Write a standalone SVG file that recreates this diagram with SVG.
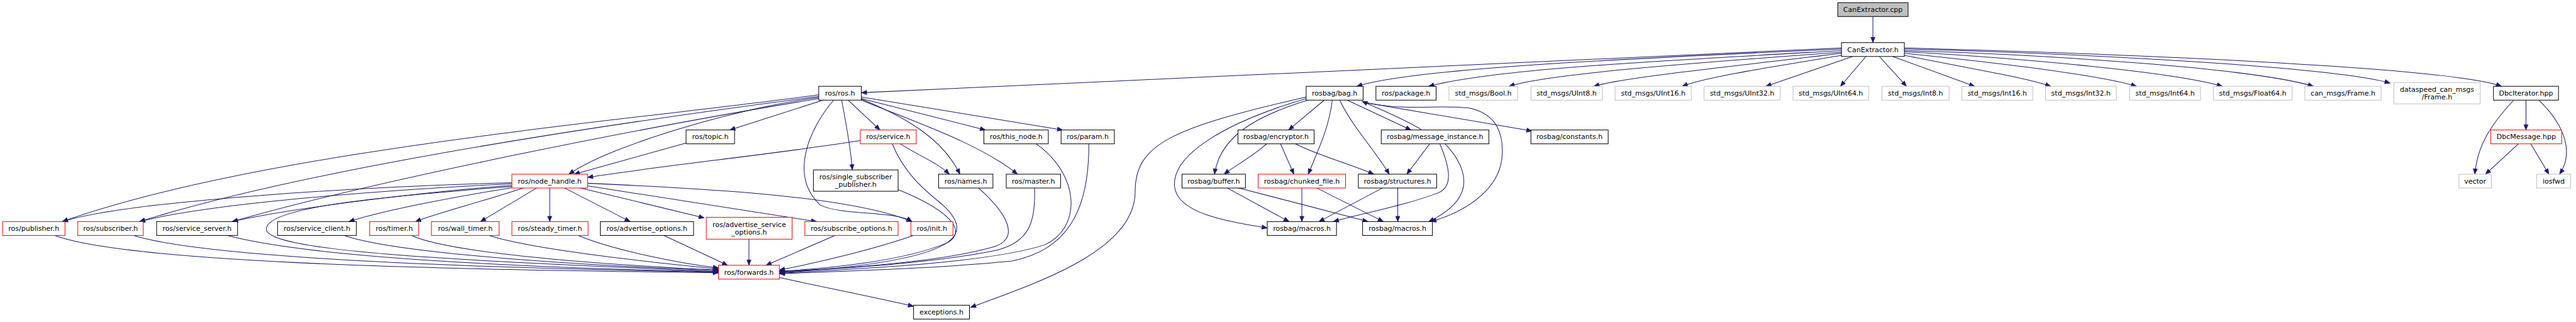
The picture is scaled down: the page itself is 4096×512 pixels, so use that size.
<svg xmlns="http://www.w3.org/2000/svg" width="4096" height="512" viewBox="0 0 4096 512">
<style>
.n rect{fill:#fff;stroke:#000;stroke-width:1.2}
.n.r rect{stroke:#ff0000}
.n.g rect{stroke:#bfbfbf}
.n.s rect{fill:#bfbfbf}
text{font-family:"DejaVu Sans","Liberation Sans",sans-serif;font-size:13px;text-anchor:middle;fill:#000}
#edges path{fill:none;stroke:#191970;stroke-width:1.2;marker-end:url(#a)}
</style>
<defs>
<marker id="a" markerUnits="userSpaceOnUse" markerWidth="12" markerHeight="9" refX="10" refY="4" orient="auto" overflow="visible"><path d="M0,0 L10,4 L0,8 z" fill="#191970" stroke="#191970" stroke-width="0.8"/></marker>
</defs>
<rect width="4096" height="512" fill="#fff"/>
<g transform="scale(0.847)">
<g id="edges">
<path d="M3516,31 L3516,80"/>
<path d="M3457,90 L1617,174"/>
<path d="M3457,92 C3000,112 2650,130 2547,162"/>
<path d="M3457,95 C3100,115 2800,130 2682,162"/>
<path d="M3457,98 C3150,120 2900,140 2833,162"/>
<path d="M3457,100 C3250,125 3050,145 2992,162"/>
<path d="M3457,104 C3330,125 3200,145 3158,162"/>
<path d="M3478,106 L3315,162"/>
<path d="M3503,106 L3455,162"/>
<path d="M3528,106 L3579,162"/>
<path d="M3553,106 L3707,162"/>
<path d="M3575,104 C3680,125 3800,145 3850,162"/>
<path d="M3575,100 C3750,118 3940,140 4011,162"/>
<path d="M3575,97 C3800,110 4080,135 4172,162"/>
<path d="M3575,95 C3850,103 4230,128 4343,162"/>
<path d="M3575,92 C3900,100 4380,125 4487,156"/>
<path d="M3575,90 C3950,100 4600,125 4696,162"/>
<path d="M4742,188 L4742,244"/>
<path d="M4719,188 C4670,240 4650,280 4646,327"/>
<path d="M4766,188 C4820,240 4830,290 4805,327"/>
<path d="M4728,270 L4666,327"/>
<path d="M4751,270 L4785,327"/>
<path d="M1537,178 C1200,225 500,280 117,416"/>
<path d="M1537,181 C1200,225 600,310 262,416"/>
<path d="M1537,185 C1200,240 700,340 436,416"/>
<path d="M1537,183 C1400,200 1150,270 1068,327"/>
<path d="M1545,188 L1370,244"/>
<path d="M1592,188 L1652,244"/>
<path d="M1580,188 C1590,240 1598,290 1600,319"/>
<path d="M1565,188 C1520,240 1480,330 1540,385 C1580,405 1680,395 1712,416"/>
<path d="M1617,186 C1700,220 1770,260 1802,327"/>
<path d="M1617,188 C1720,230 1840,270 1910,327"/>
<path d="M1617,185 L1850,244"/>
<path d="M1617,182 L1995,244"/>
<path d="M961,343 C700,350 250,375 117,416"/>
<path d="M961,345 C750,355 400,380 262,416"/>
<path d="M961,348 C800,360 550,390 436,416"/>
<path d="M961,350 C700,370 500,390 500,430 C500,475 900,490 1349,510"/>
<path d="M963,352 C850,370 720,395 655,416"/>
<path d="M985,352 C900,380 820,400 780,416"/>
<path d="M1009,352 L902,416"/>
<path d="M1032,352 L1032,416"/>
<path d="M1058,352 L1183,416"/>
<path d="M1086,352 L1322,409"/>
<path d="M1103,349 L1533,416"/>
<path d="M1103,344 C1350,355 1600,370 1712,416"/>
<path d="M1290,268 L1078,327"/>
<path d="M1615,264 C1450,290 1250,310 1103,333"/>
<path d="M1690,270 C1720,290 1760,305 1782,327"/>
<path d="M1675,270 C1700,330 1740,360 1770,385 C1830,440 1810,490 1463,512"/>
<path d="M1945,270 C2030,330 2030,430 1960,460 C1850,495 1600,505 1463,513"/>
<path d="M2044,270 C2045,400 2000,470 1900,490 C1750,505 1550,510 1463,514"/>
<path d="M1836,352 C1890,400 1920,450 1860,465 C1750,495 1560,505 1463,510"/>
<path d="M1942,352 C1945,420 1930,455 1870,470 C1750,495 1560,505 1463,511"/>
<path d="M1686,356 C1770,390 1820,430 1780,455 C1700,490 1550,505 1463,509"/>
<path d="M1718,441 C1650,465 1550,490 1463,507"/>
<path d="M1570,441 L1438,498"/>
<path d="M1406,449 L1406,498"/>
<path d="M1244,441 L1366,498"/>
<path d="M1083,441 C1150,470 1280,495 1349,503"/>
<path d="M915,441 C1000,470 1250,495 1349,505"/>
<path d="M770,441 C850,480 1200,500 1349,507"/>
<path d="M643,441 C750,480 1150,500 1349,508"/>
<path d="M423,441 C600,490 1100,505 1349,510"/>
<path d="M247,441 C400,490 1000,505 1349,511"/>
<path d="M100,441 C250,500 1000,508 1349,512"/>
<path d="M1463,521 C1550,540 1650,560 1715,575"/>
<path d="M2452,182 C2200,240 2131,270 2131,360 C2131,470 1950,530 1822,577"/>
<path d="M2452,185 C2300,230 2200,290 2205,350 C2210,400 2300,415 2379,428"/>
<path d="M2455,188 C2350,220 2290,260 2280,327"/>
<path d="M2486,188 L2419,244"/>
<path d="M2501,188 C2495,240 2475,280 2456,327"/>
<path d="M2515,188 C2540,240 2580,280 2608,327"/>
<path d="M2529,188 L2649,244"/>
<path d="M2669,244 C2640,225 2590,205 2557,190"/>
<path d="M2559,192 C2650,210 2700,195 2760,203 C2810,215 2822,250 2820,290 C2818,350 2760,395 2686,416"/>
<path d="M2559,192 L2876,246"/>
<path d="M2378,270 C2350,295 2320,310 2298,327"/>
<path d="M2404,270 L2429,327"/>
<path d="M2432,270 C2470,290 2540,310 2579,327"/>
<path d="M2684,270 L2641,327"/>
<path d="M2703,270 C2720,310 2730,350 2700,362 C2640,385 2560,400 2503,416"/>
<path d="M2713,270 C2750,310 2780,370 2682,416"/>
<path d="M2302,352 L2420,416"/>
<path d="M2322,352 L2568,416"/>
<path d="M2444,352 L2444,416"/>
<path d="M2470,352 L2597,416"/>
<path d="M2597,352 L2476,416"/>
<path d="M2624,352 L2624,416"/>
</g>
<g id="n_cpp" class="n s"><rect x="3450" y="5" width="132" height="26"/><text x="3516" y="22.5">CanExtractor.cpp</text></g>
<g id="n_canextractor_h" class="n"><rect x="3457" y="80" width="118" height="26"/><text x="3516" y="97.5">CanExtractor.h</text></g>
<g id="n_ros_h" class="n"><rect x="1537" y="162" width="80" height="26"/><text x="1577" y="179.5">ros/ros.h</text></g>
<g id="n_bag_h" class="n"><rect x="2452" y="162" width="107" height="26"/><text x="2505.5" y="179.5">rosbag/bag.h</text></g>
<g id="n_package_h" class="n"><rect x="2583" y="162" width="113" height="26"/><text x="2639.5" y="179.5">ros/package.h</text></g>
<g id="n_bool" class="n g"><rect x="2720" y="162" width="129" height="26"/><text x="2784.5" y="179.5">std_msgs/Bool.h</text></g>
<g id="n_uint8" class="n g"><rect x="2874" y="162" width="134" height="26"/><text x="2941" y="179.5">std_msgs/UInt8.h</text></g>
<g id="n_uint16" class="n g"><rect x="3032" y="162" width="143" height="26"/><text x="3103.5" y="179.5">std_msgs/UInt16.h</text></g>
<g id="n_uint32" class="n g"><rect x="3199" y="162" width="143" height="26"/><text x="3270.5" y="179.5">std_msgs/UInt32.h</text></g>
<g id="n_uint64" class="n g"><rect x="3366" y="162" width="142" height="26"/><text x="3437" y="179.5">std_msgs/UInt64.h</text></g>
<g id="n_int8" class="n g"><rect x="3533" y="162" width="126" height="26"/><text x="3596" y="179.5">std_msgs/Int8.h</text></g>
<g id="n_int16" class="n g"><rect x="3683" y="162" width="133" height="26"/><text x="3749.5" y="179.5">std_msgs/Int16.h</text></g>
<g id="n_int32" class="n g"><rect x="3840" y="162" width="133" height="26"/><text x="3906.5" y="179.5">std_msgs/Int32.h</text></g>
<g id="n_int64" class="n g"><rect x="3998" y="162" width="133" height="26"/><text x="4064.5" y="179.5">std_msgs/Int64.h</text></g>
<g id="n_float64" class="n g"><rect x="4155" y="162" width="148" height="26"/><text x="4229" y="179.5">std_msgs/Float64.h</text></g>
<g id="n_can_frame" class="n g"><rect x="4327" y="162" width="143" height="26"/><text x="4398.5" y="179.5">can_msgs/Frame.h</text></g>
<g id="n_ds_frame" class="n g"><rect x="4494" y="155" width="162" height="40"/><text x="4575" y="172.5">dataspeed_can_msgs</text><text x="4575" y="186.5">/Frame.h</text></g>
<g id="n_dbciter" class="n"><rect x="4681" y="162" width="122" height="26"/><text x="4742" y="179.5">DbcIterator.hpp</text></g>
<g id="n_topic" class="n"><rect x="1288" y="244" width="91" height="26"/><text x="1333.5" y="261.5">ros/topic.h</text></g>
<g id="n_service" class="n r"><rect x="1615" y="244" width="105" height="26"/><text x="1667.5" y="261.5">ros/service.h</text></g>
<g id="n_this_node" class="n"><rect x="1847" y="244" width="121" height="26"/><text x="1907.5" y="261.5">ros/this_node.h</text></g>
<g id="n_param" class="n"><rect x="1992" y="244" width="100" height="26"/><text x="2042" y="261.5">ros/param.h</text></g>
<g id="n_encryptor" class="n"><rect x="2324" y="244" width="143" height="26"/><text x="2395.5" y="261.5">rosbag/encryptor.h</text></g>
<g id="n_msg_inst" class="n"><rect x="2593" y="244" width="202" height="26"/><text x="2694" y="261.5">rosbag/message_instance.h</text></g>
<g id="n_constants" class="n"><rect x="2874" y="244" width="145" height="26"/><text x="2946.5" y="261.5">rosbag/constants.h</text></g>
<g id="n_dbcmsg" class="n r"><rect x="4676" y="244" width="133" height="26"/><text x="4742.5" y="261.5">DbcMessage.hpp</text></g>
<g id="n_node_handle" class="n r"><rect x="961" y="327" width="142" height="26"/><text x="1032" y="344.5">ros/node_handle.h</text></g>
<g id="n_single_sub" class="n"><rect x="1527" y="319" width="159" height="40"/><text x="1606.5" y="336.5">ros/single_subscriber</text><text x="1606.5" y="350.5">_publisher.h</text></g>
<g id="n_names" class="n"><rect x="1762" y="327" width="102" height="26"/><text x="1813" y="344.5">ros/names.h</text></g>
<g id="n_master" class="n"><rect x="1889" y="327" width="102" height="26"/><text x="1940" y="344.5">ros/master.h</text></g>
<g id="n_buffer" class="n"><rect x="2219" y="327" width="119" height="26"/><text x="2278.5" y="344.5">rosbag/buffer.h</text></g>
<g id="n_chunked" class="n r"><rect x="2362" y="327" width="164" height="26"/><text x="2444" y="344.5">rosbag/chunked_file.h</text></g>
<g id="n_structures" class="n"><rect x="2550" y="327" width="147" height="26"/><text x="2623.5" y="344.5">rosbag/structures.h</text></g>
<g id="n_vector" class="n g"><rect x="4616" y="327" width="61" height="26"/><text x="4646.5" y="344.5">vector</text></g>
<g id="n_iosfwd" class="n g"><rect x="4762" y="327" width="64" height="26"/><text x="4794" y="344.5">iosfwd</text></g>
<g id="n_publisher" class="n r"><rect x="5" y="416" width="117" height="26"/><text x="63.5" y="433.5">ros/publisher.h</text></g>
<g id="n_subscriber" class="n r"><rect x="146" y="416" width="123" height="26"/><text x="207.5" y="433.5">ros/subscriber.h</text></g>
<g id="n_service_server" class="n"><rect x="294" y="416" width="152" height="26"/><text x="370" y="433.5">ros/service_server.h</text></g>
<g id="n_service_client" class="n"><rect x="521" y="416" width="148" height="26"/><text x="595" y="433.5">ros/service_client.h</text></g>
<g id="n_timer" class="n r"><rect x="694" y="416" width="92" height="26"/><text x="740" y="433.5">ros/timer.h</text></g>
<g id="n_wall_timer" class="n r"><rect x="810" y="416" width="127" height="26"/><text x="873.5" y="433.5">ros/wall_timer.h</text></g>
<g id="n_steady_timer" class="n r"><rect x="961" y="416" width="143" height="26"/><text x="1032.5" y="433.5">ros/steady_timer.h</text></g>
<g id="n_adv_opts" class="n"><rect x="1127" y="416" width="175" height="26"/><text x="1214.5" y="433.5">ros/advertise_options.h</text></g>
<g id="n_adv_srv_opts" class="n r"><rect x="1326" y="408" width="161" height="41"/><text x="1406.5" y="426">ros/advertise_service</text><text x="1406.5" y="440">_options.h</text></g>
<g id="n_sub_opts" class="n r"><rect x="1511" y="416" width="175" height="26"/><text x="1598.5" y="433.5">ros/subscribe_options.h</text></g>
<g id="n_init" class="n r"><rect x="1710" y="416" width="79" height="26"/><text x="1749.5" y="433.5">ros/init.h</text></g>
<g id="n_macros1" class="n"><rect x="2379" y="416" width="130" height="26"/><text x="2444" y="433.5">rosbag/macros.h</text></g>
<g id="n_macros2" class="n"><rect x="2558" y="416" width="131" height="26"/><text x="2623.5" y="433.5">rosbag/macros.h</text></g>
<g id="n_forwards" class="n r"><rect x="1349" y="498" width="114" height="26"/><text x="1406" y="515.5">ros/forwards.h</text></g>
<g id="n_exceptions" class="n"><rect x="1715" y="573" width="105" height="26"/><text x="1767.5" y="590.5">exceptions.h</text></g>
</g>
</svg>
